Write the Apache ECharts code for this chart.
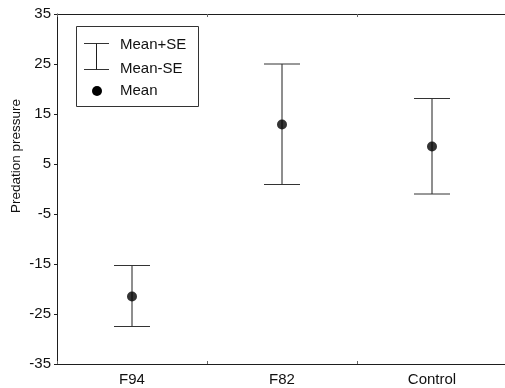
<!DOCTYPE html>
<html>
<head>
<meta charset="utf-8">
<script src="https://cdn.jsdelivr.net/npm/echarts@6/dist/echarts.min.js"></script>
<style>
html,body{margin:0;padding:0;background:#fff;}
#chart{width:505px;height:388px;}
</style>
</head>
<body>
<div id="chart"></div>
<script>
var categories = ['F94', 'F82', 'Control'];
var means = [-21.5, 12.9, 8.5];
var upperSE = [-15.3, 25.0, 18.1];
var lowerSE = [-27.5, 0.9, -1.0];
var yTicks = [-35, -25, -15, -5, 5, 15, 25, 35];
var yLabel = 'Predation pressure';
var legendLabels = ['Mean+SE', 'Mean-SE', 'Mean'];

var FONT = '"Liberation Sans", Arial, sans-serif';
var INK = '#1e1e1e';

var chart = echarts.init(document.getElementById('chart'), null, {renderer: 'canvas'});

var errData = categories.map(function (c, i) { return [i, lowerSE[i], upperSE[i]]; });
var meanData = categories.map(function (c, i) { return [i, means[i]]; });

var option = {
  animation: false,
  backgroundColor: '#fff',
  grid: {
    left: 57, top: 14, width: 450, height: 350,
    show: false,
    containLabel: false,
    outerBoundsMode: 'none'
  },
  xAxis: [{
    type: 'category',
    data: categories,
    boundaryGap: true,
    position: 'bottom',
    axisLine: {onZero: false, lineStyle: {color: INK, width: 1}},
    axisTick: {show: true, inside: true, length: 3, lineStyle: {color: '#666'}},
    axisLabel: {color: '#111', fontSize: 15, fontFamily: FONT, margin: 8},
    splitLine: {show: false}
  }, {
    type: 'category',
    data: categories,
    boundaryGap: true,
    position: 'top',
    axisLine: {onZero: false, lineStyle: {color: INK, width: 1}},
    axisTick: {show: true, inside: true, length: 3, lineStyle: {color: '#666'}},
    axisLabel: {show: false},
    splitLine: {show: false}
  }],
  yAxis: {
    type: 'value',
    min: -35, max: 35, interval: 10,
    axisLine: {show: true, lineStyle: {color: INK, width: 1}},
    axisTick: {show: true, length: 3, customValues: yTicks, lineStyle: {color: INK}},
    axisLabel: {color: '#111', fontSize: 15, fontFamily: FONT, margin: 6, customValues: yTicks},
    splitLine: {show: false}
  },
  series: [{
    type: 'custom',
    data: errData,
    z: 2,
    renderItem: function (params, api) {
      var x = api.value(0);
      var lo = api.coord([x, api.value(1)]);
      var hi = api.coord([x, api.value(2)]);
      var half = 18;
      return {
        type: 'group',
        children: [
          {type: 'line', shape: {x1: lo[0], y1: lo[1], x2: hi[0], y2: hi[1]}, style: {stroke: INK, lineWidth: 1}},
          {type: 'line', shape: {x1: hi[0] - half, y1: hi[1], x2: hi[0] + half, y2: hi[1]}, style: {stroke: '#333', lineWidth: 1}},
          {type: 'line', shape: {x1: lo[0] - half, y1: lo[1], x2: lo[0] + half, y2: lo[1]}, style: {stroke: '#333', lineWidth: 1}}
        ]
      };
    }
  }, {
    type: 'scatter',
    data: meanData,
    symbol: 'circle',
    symbolSize: 10,
    itemStyle: {color: '#000'},
    z: 3
  }],
  graphic: [{
    type: 'text',
    x: 16, y: 156,
    rotation: Math.PI / 2,
    style: {text: yLabel, fill: '#111', font: '13.5px ' + FONT, textAlign: 'center', textVerticalAlign: 'middle'}
  },
  {type: 'rect', shape: {x: 76.5, y: 26.5, width: 122, height: 80}, style: {fill: '#fff', stroke: '#333', lineWidth: 1}},
  {type: 'line', shape: {x1: 84, y1: 43.5, x2: 109, y2: 43.5}, style: {stroke: '#333', lineWidth: 1}},
  {type: 'line', shape: {x1: 84, y1: 69.5, x2: 109, y2: 69.5}, style: {stroke: '#333', lineWidth: 1}},
  {type: 'line', shape: {x1: 96.5, y1: 43.5, x2: 96.5, y2: 69.5}, style: {stroke: INK, lineWidth: 1}},
  {type: 'circle', shape: {cx: 97, cy: 91, r: 5}, style: {fill: '#000'}},
  {type: 'text', x: 120, y: 45, style: {text: legendLabels[0], fill: '#111', font: '15px ' + FONT, textVerticalAlign: 'middle'}},
  {type: 'text', x: 120, y: 69, style: {text: legendLabels[1], fill: '#111', font: '15px ' + FONT, textVerticalAlign: 'middle'}},
  {type: 'text', x: 120, y: 91, style: {text: legendLabels[2], fill: '#111', font: '15px ' + FONT, textVerticalAlign: 'middle'}}
  ]
};
chart.setOption(option);
</script>
</body>
</html>
